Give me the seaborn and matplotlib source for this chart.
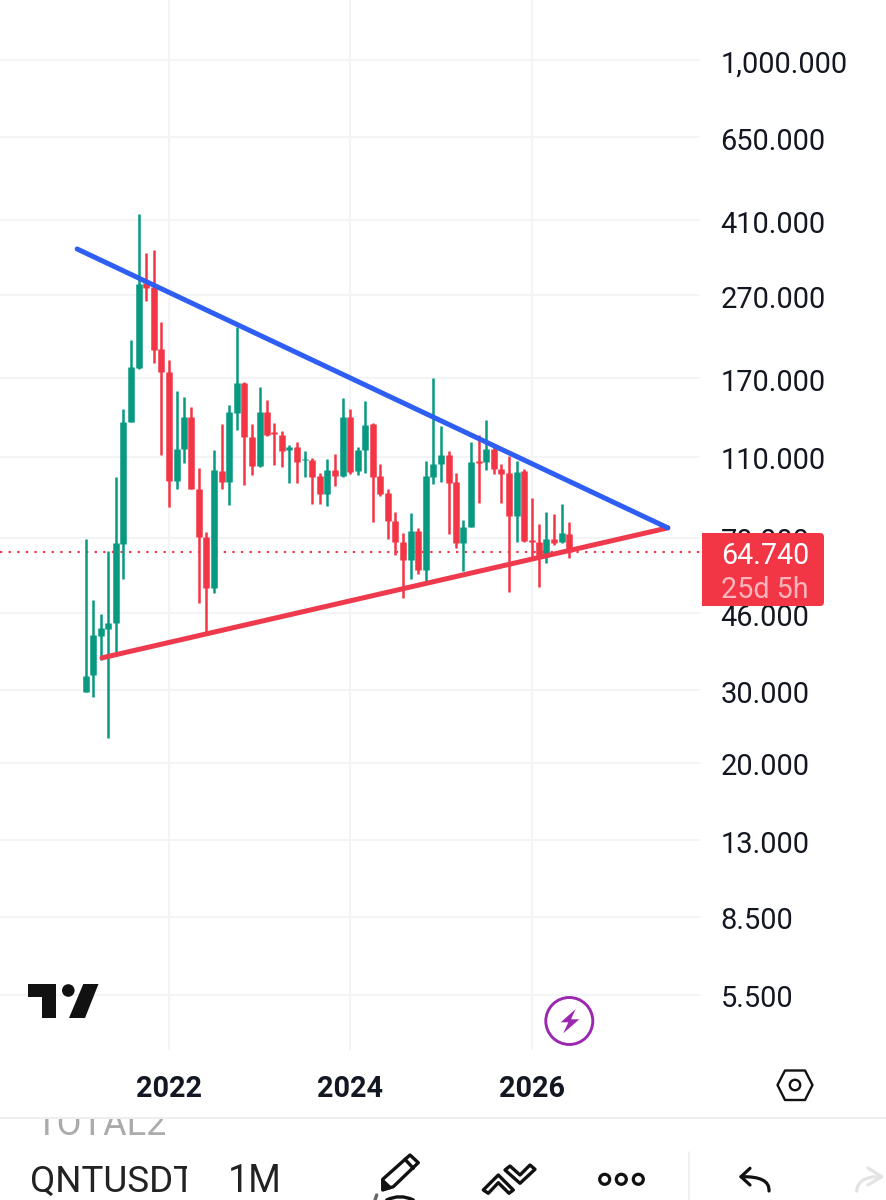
import numpy as np
import pandas as pd

import matplotlib.pyplot as plt
import matplotlib.ticker as mticker
from matplotlib.patches import Circle, FancyBboxPatch, PathPatch, Polygon, Rectangle
from matplotlib.path import Path
from matplotlib.transforms import ScaledTranslation
import seaborn as sns

# monthly candles, Feb 2021 to Jun 2026
direction = list('UUUUUUUU' 'DDDD' 'UU' 'DDD' 'U' 'D' 'UU' 'DD' 'U' 'DDD' 'U' 'D' 'U' 'DD' 'U' 'D' 'U' 'D'
                 'UU' 'DDDDD' 'U' 'D' 'UUU' 'DD' 'UU' 'D' 'U' 'DDD' 'U' 'DDD' 'U' 'D' 'U' 'D')
body_top = [32.5, 40.8, 42.3, 43.7, 68.0, 133.6, 181.2, 287.5, 288.3, 282.7, 200.2, 176.5, 114.8, 137.2, 137.2, 92.0,
            70.3, 102.1, 101.6, 141.0, 165.7, 166.0, 122.7, 141.0, 141.3, 126.0, 124.1, 116.1, 115.9, 108.8, 108.0,
            98.8, 102.3, 102.3, 137.2, 137.2, 114.1, 131.2, 131.9, 98.9, 90.0, 76.9, 68.4, 72.7, 72.7, 98.8, 105.6,
            111.0, 111.0, 95.5, 74.5, 106.8, 107.4, 114.8, 114.8, 102.7, 100.4, 101.0, 101.7, 69.2, 68.4, 69.6, 69.6,
            71.9, 71.5]
body_bottom = [29.7, 32.6, 40.5, 42.2, 43.7, 67.7, 133.6, 180.5, 281.6, 199.1, 176.5, 96.1, 96.1, 114.8, 92.0, 70.3,
               53.0, 53.0, 95.5, 95.5, 140.5, 122.7, 104.6, 104.4, 124.1, 124.8, 113.7, 114.3, 106.8, 108.0, 98.4,
               89.4, 89.4, 98.8, 98.8, 101.2, 101.7, 114.1, 98.4, 89.4, 76.9, 68.4, 61.9, 61.9, 58.5, 58.5, 98.4,
               105.6, 95.2, 68.0, 68.0, 74.5, 106.4, 106.6, 102.7, 100.0, 79.2, 79.2, 68.9, 68.5, 63.3, 63.0, 68.1,
               68.4, 64.74]
highs = [69.6, 49.5, 45.7, 65.1, 98.4, 143.4, 210.5, 424.4, 342.2, 347.4, 233.1, 188.4, 158.8, 153.6, 145.0, 103.3,
         72.4, 114.1, 131.9, 146.6, 226.7, 166.9, 131.9, 162.1, 150.8, 132.9, 127.1, 117.4, 119.3, 113.5, 109.2, 100.6,
         108.6, 111.6, 152.5, 143.4, 116.1, 150.2, 132.7, 105.6, 92.0, 81.0, 71.9, 80.4, 74.1, 107.4, 170.4, 130.5,
         113.7, 100.4, 77.3, 119.3, 124.1, 134.9, 116.7, 105.6, 110.4, 107.4, 102.7, 87.5, 75.6, 81.0, 79.9, 84.5, 76.5]
lows = [29.7, 28.9, 35.5, 23.0, 36.5, 55.7, 133.6, 179.1, 262.0, 185.5, 111.0, 83.3, 91.9, 106.2, 92.0, 48.7, 41.2,
        51.5, 91.9, 84.0, 127.6, 93.9, 99.3, 104.0, 123.4, 105.0, 104.0, 95.2, 95.2, 98.4, 84.5, 84.5, 83.6, 93.6,
        98.2, 99.9, 99.3, 100.6, 76.6, 88.5, 69.6, 63.6, 50.1, 55.7, 57.3, 54.5, 94.5, 95.5, 71.5, 66.3, 58.2, 74.5,
        85.1, 102.1, 99.9, 85.1, 51.8, 68.4, 68.5, 63.0, 53.3, 60.9, 67.3, 68.1, 62.6]

# trend lines drawn on the chart
upper_dates = ['2020-12-27', '2027-07-03']
upper_prices = [349.3, 74.0]
lower_dates = ['2021-04-06', '2027-07-03']
lower_prices = [35.9, 74.0]

last_price = 64.74
price_ticks = [1000, 650, 410, 270, 170, 110, 70, 46, 30, 20, 13, 8.5, 5.5]
price_labels = ['1,000.000', '650.000', '410.000', '270.000', '170.000', '110.000', '70.000', '46.000',
                '30.000', '20.000', '13.000', '8.500', '5.500']
year_ticks = ['2022-01-01', '2024-01-01', '2026-01-01']
year_labels = ['2022', '2024', '2026']

GREEN = '#089981'
RED = '#F23645'
BLUE = '#2F5FF2'
GRID = '#F3F4F6'
INK = '#131722'
PURPLE = '#9C27B0'

sns.set_theme(style='whitegrid', rc={'grid.color': GRID, 'grid.linewidth': 1.4, 'axes.edgecolor': 'white'})
plt.rcParams['font.family'] = ['Roboto', 'DejaVu Sans']

months = pd.date_range('2021-02-01', periods=len(direction), freq='MS')
wicks = pd.DataFrame({'date': list(months) * 2, 'price': lows + highs,
                      'candle': list(range(len(months))) * 2, 'dir': direction * 2})
bodies = pd.DataFrame({'date': list(months) * 2, 'price': body_bottom + body_top,
                       'candle': list(range(len(months))) * 2, 'dir': direction * 2})
colors = {'U': GREEN, 'D': RED}

fig = plt.figure(figsize=(8.86, 12), dpi=100)
ax = fig.add_axes([0, 1 - 1050 / 1200, 700 / 886, 1050 / 1200])
ax.set_yscale('log')

sns.lineplot(data=wicks, x='date', y='price', hue='dir', units='candle', estimator=None, palette=colors,
             linewidth=1.8, legend=False, sort=False, solid_capstyle='butt', ax=ax)
sns.lineplot(data=bodies, x='date', y='price', hue='dir', units='candle', estimator=None, palette=colors,
             linewidth=4.7, legend=False, sort=False, solid_capstyle='butt', ax=ax)

ax.axhline(last_price, color=RED, linewidth=1.5, linestyle=(0, (1.1, 3.03)), zorder=1.5)

sns.lineplot(x=pd.to_datetime(upper_dates), y=upper_prices, color=BLUE, linewidth=3.6, solid_capstyle='round', ax=ax, zorder=5)
sns.lineplot(x=pd.to_datetime(lower_dates), y=lower_prices, color='#EE3A4C', linewidth=3.6, solid_capstyle='round', ax=ax, zorder=4)

# 2 years = 181.5 px, Jan 2022 sits at x=169
days_per_px = 731 / 181.5
origin = pd.Timestamp('2022-01-01')
ax.set_xlim(origin - pd.Timedelta(days=169 * days_per_px), origin + pd.Timedelta(days=531 * days_per_px))
ax.set_ylim(4.05, 1396)

ax.set_xlabel('')
ax.set_ylabel('')
ax.set_xticks(pd.to_datetime(year_ticks))
ax.set_xticklabels(year_labels, fontsize=20.8, fontweight='bold', color=INK)
ax.set_yticks(price_ticks)
ax.set_yticklabels(price_labels, fontsize=20.9, color=INK)
ax.yaxis.set_minor_locator(mticker.NullLocator())
ax.yaxis.tick_right()
ax.tick_params(axis='y', length=0, pad=14.8)
ax.tick_params(axis='x', length=0, pad=18)
ax.set_axisbelow(True)
sns.despine(ax=ax, left=True, bottom=True, right=True, top=True)

# labels sit a touch under their grid lines
nudge = ScaledTranslation(0, -1 / 72, fig.dpi_scale_trans)
for lab in ax.get_yticklabels():
    lab.set_transform(lab.get_transform() + nudge)

# everything that is not the chart goes on an overlay in pixel coordinates
ov = fig.add_axes([0, 0, 1, 1], facecolor='none', zorder=10)
ov.set_xlim(0, 886)
ov.set_ylim(1200, 0)
ov.axis('off')


def stroke(points, color='#111111', lw=2.4, closed=False, fill='none'):
    ov.add_patch(Polygon(points, closed=closed, facecolor=fill, edgecolor=color, linewidth=lw, joinstyle='round', capstyle='round'))


def curve(start, ctrl, end, color='#111111', lw=2.4):
    ov.add_patch(PathPatch(Path([start, ctrl, end], [Path.MOVETO, Path.CURVE3, Path.CURVE3]), facecolor='none',
                           edgecolor=color, linewidth=lw, capstyle='round'))


# price tag
ov.add_patch(Rectangle((702, 533), 12, 73, facecolor=RED, edgecolor='none'))
ov.add_patch(FancyBboxPatch((706, 536), 115, 67, boxstyle='round,pad=3,rounding_size=4', facecolor=RED, edgecolor='none'))
ov.text(721.5, 553, '64.740', fontsize=20.6, color='white', va='center_baseline', ha='left')
ov.text(721.5, 587, '25d 5h', fontsize=20.6, color='#FFB5BC', va='center_baseline', ha='left')

# logo
ov.add_patch(Polygon([(28, 984), (56, 984), (56, 1018), (42, 1018), (42, 997), (28, 997)], facecolor='#111111', edgecolor='none'))
ov.add_patch(Circle((68.3, 990.5), 6.3, facecolor='#111111', edgecolor='none'))
ov.add_patch(Polygon([(83.3, 984), (98.5, 984), (85, 1018), (69, 1018)], facecolor='#111111', edgecolor='none'))

# bolt badge
ov.add_patch(Circle((569.3, 1021), 23.5, facecolor='white', edgecolor=PURPLE, linewidth=2.1))
ov.add_patch(Polygon([(575.7, 1009), (560.7, 1022.3), (568.3, 1022.3), (563.3, 1033.3), (579.3, 1019.3), (571, 1019.3)],
                     facecolor=PURPLE, edgecolor='none'))

# settings hexagon
stroke([(777.5, 1085), (785, 1070.5), (805, 1070.5), (812.5, 1085), (805, 1100), (785, 1100)], lw=1.7, closed=True)
ov.add_patch(Circle((795, 1085), 5.2, facecolor='none', edgecolor='#111111', linewidth=1.7))

# toolbar
ov.plot([0, 886], [1117.7, 1117.7], color='#EEEEEE', linewidth=1.5)
total = ov.text(35, 1135, 'TOTAL2', fontsize=26, color='#ABABAB', va='baseline', ha='left', clip_on=True)
total.set_clip_path(Rectangle((0, 1119), 886, 30, transform=ov.transData))
symbol = ov.text(30, 1191.5, 'QNTUSDT', fontsize=26.5, color='#222222', va='baseline', ha='left', clip_on=True)
symbol.set_clip_path(Rectangle((0, 1150), 187, 50, transform=ov.transData))
ov.text(227.5, 1191.5, '1M', fontsize=27, color='#222222', va='baseline', ha='left')

# pencil
stroke([(382.7, 1179.3), (410, 1155), (418.3, 1162.7), (393.3, 1186.7), (382.7, 1190)], closed=True)
stroke([(405, 1159.3), (413.3, 1168.3)])
stroke([(382.7, 1179.3), (392, 1188), (382.7, 1190)], lw=1, closed=True, fill='#111111')
stroke([(376.7, 1195), (375, 1200)], color='#666666')
curve((386.7, 1200), (400, 1193.5), (413.3, 1200))

# chevrons
stroke([(483.3, 1190), (498.3, 1175), (513.3, 1190), (509, 1193.3), (498.3, 1182.7), (488.3, 1193.3)], closed=True)
stroke([(505, 1170), (510, 1166), (520, 1175), (530, 1165), (535, 1169.3), (520, 1183.3)], closed=True)

# three dots
for cx in (604.7, 621.3, 638.3):
    ov.add_patch(Circle((cx, 1179.3), 5, facecolor='none', edgecolor='#111111', linewidth=2.3))
ov.plot([689.3, 689.3], [1152, 1200], color='#EEEEEE', linewidth=1.2)

# undo, redo
stroke([(750, 1168.3), (741, 1176.7), (750, 1185)], lw=2.3)
curve((741, 1176.7), (770, 1176), (769, 1191), lw=2.3)
stroke([(868, 1168), (881.7, 1176.7), (868, 1185)], color='#E3E3E3', lw=2.3)
curve((856.7, 1191), (858, 1176), (881, 1176.7), color='#E3E3E3', lw=2.3)

fig.savefig('out.png', dpi=100)
